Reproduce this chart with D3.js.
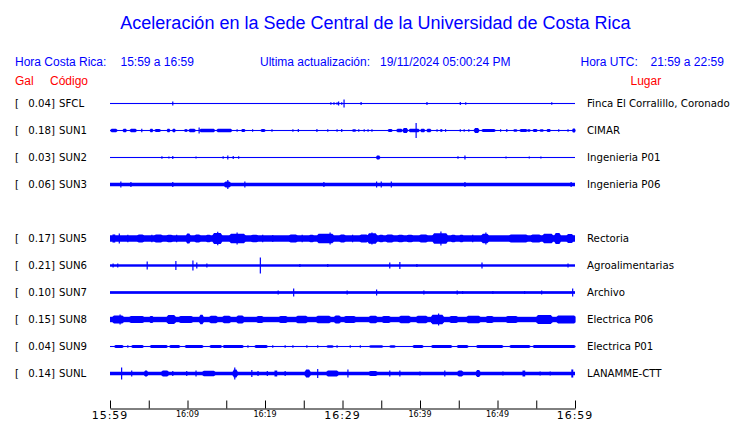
<!DOCTYPE html>
<html lang="es">
<head>
<meta charset="utf-8">
<script src="https://d3js.org/d3.v7.min.js"></script>
<style>
  body { margin: 0; background: #fff; }
  .title { font-family: "Liberation Sans", Arial, sans-serif; font-size: 18px; fill: #0000ff; }
  .head { font-family: "Liberation Sans", Arial, sans-serif; font-size: 12px; fill: #0000ff; }
  .red { font-family: "Liberation Sans", Arial, sans-serif; font-size: 12px; fill: #ff0000; }
  .lbl { font-family: "DejaVu Sans", sans-serif; font-size: 10.2px; fill: #000; }
  .tmaj { font-family: "DejaVu Sans", sans-serif; font-size: 11px; letter-spacing: 1px; fill: #000; }
  .tmin { font-family: "DejaVu Sans", sans-serif; font-size: 8px; fill: #000; }
</style>
</head>
<body>
<script>
// stations, top to bottom (SUN4 slot is empty)
const rowOrder = ["SFCL", "SUN1", "SUN2", "SUN3", "SUN4", "SUN5", "SUN6", "SUN7", "SUN8", "SUN9", "SUNL"];
const codes = ["SFCL", "SUN1", "SUN2", "SUN3", "SUN5", "SUN6", "SUN7", "SUN8", "SUN9", "SUNL"];
const galValues = [0.04, 0.18, 0.03, 0.06, 0.17, 0.21, 0.10, 0.15, 0.04, 0.14];
const places = ["Finca El Corralillo, Coronado", "CIMAR", "Ingenieria P01", "Ingenieria P06", "Rectoria",
  "Agroalimentarias", "Archivo", "Electrica P06", "Electrica P01", "LANAMME-CTT"];

// background noise level of each trace (relative amplitude)
const baseAmp = [0.04, 0.04, 0.04, 0.13, 0.24, 0.09, 0.1, 0.2, 0.04, 0.13];

// bursts: [start minute, end minute, amplitude], minutes after 15:59
const sfcl = [[8.1,8.1,0.15],[28.5,28.5,0.1],[28.9,28.9,0.1],[29.3,29.3,0.1],[29.5,29.5,0.15],[29.9,29.9,0.1],
  [30.2,30.2,0.3],[32.4,32.4,0.12],[40.9,40.9,0.12],[45.2,45.2,0.12],[45.9,45.9,0.1],[57.0,57.0,0.1]];
const sun1 = [[0.1,0.9,0.13],[1.7,2.1,0.13],[2.6,3.4,0.13],[4.1,4.1,0.13],[5.2,5.5,0.13],[5.8,6.5,0.11],
  [7.4,7.7,0.13],[8.1,8.4,0.13],[9.7,9.9,0.1],[10.2,11.0,0.13],[11.5,11.5,0.22],[11.6,13.5,0.13],
  [13.8,15.7,0.13],[16.4,16.4,0.1],[17.0,17.4,0.12],[18.4,18.4,0.1],[19.5,20.0,0.12],[20.9,20.9,0.1],
  [23.6,23.6,0.1],[24.3,24.3,0.12],[26.7,26.7,0.12],[28.1,28.1,0.1],[29.3,29.3,0.1],[29.9,29.9,0.12],
  [31.3,31.7,0.1],[32.1,32.1,0.1],[32.8,32.8,0.1],[33.3,33.3,0.1],[33.8,33.8,0.1],[35.9,36.4,0.12],
  [37.0,37.7,0.13],[37.8,38.4,0.19],[38.6,39.9,0.13],[39.5,39.5,0.56],[40.1,40.6,0.13],[40.9,41.4,0.13],
  [42.2,42.2,0.1],[42.7,42.8,0.1],[43.3,43.3,0.1],[45.2,45.2,0.1],[45.7,45.7,0.1],[46.3,46.3,0.1],
  [47.0,47.6,0.19],[48.0,49.7,0.12],[50.4,50.4,0.1],[51.2,51.2,0.12],[52.1,52.5,0.1],[52.9,53.8,0.12],
  [53.9,54.2,0.1],[54.6,55.1,0.12],[55.5,55.9,0.1],[56.4,56.8,0.12],[57.9,57.9,0.1],[59.1,59.1,0.1],[59.7,60,0.15]];
const sun2 = [[6.7,6.7,0.1],[7.6,7.6,0.08],[8.1,8.1,0.12],[11.1,11.1,0.08],[14.6,14.6,0.1],[15.2,15.2,0.15],
  [15.9,15.9,0.12],[16.6,16.6,0.1],[34.4,34.8,0.15],[44.9,44.9,0.1],[45.8,45.8,0.15],[51.1,51.1,0.08],
  [54.1,54.1,0.08],[55.6,55.6,0.08]];
const sun3 = [[1.4,1.4,0.22],[2.7,2.7,0.18],[8.1,8.1,0.18],[14.8,15.5,0.22],[15.2,15.2,0.33],[17.4,17.4,0.22],
  [27.6,27.6,0.18],[34.4,34.4,0.22],[35.0,35.0,0.22],[36.3,36.3,0.22],[45.8,45.8,0.18],[59.5,59.5,0.18]];
const sun5 = [[0.4,0.6,0.3],[1.2,1.2,0.37],[2.3,2.3,0.28],[3.6,4.3,0.3],[5.4,5.4,0.28],[5.8,6.7,0.3],
  [7.4,8.0,0.28],[8.6,8.6,0.28],[9.9,10.3,0.37],[11.0,11.6,0.3],[12.5,12.9,0.28],[13.3,14.4,0.4],
  [13.9,13.9,0.5],[15.5,17.4,0.35],[16.4,16.4,0.45],[18.3,19.0,0.28],[19.7,19.7,0.28],[21.0,21.0,0.26],
  [23.2,24.1,0.3],[24.8,24.8,0.28],[25.8,26.2,0.28],[26.8,28.8,0.35],[28.4,28.4,0.45],[29.7,30.3,0.3],
  [31.3,31.3,0.28],[32.3,33.2,0.3],[33.3,34.4,0.38],[33.8,33.8,0.45],[34.8,35.2,0.28],[35.7,36.5,0.3],
  [37.2,37.8,0.28],[38.4,39.0,0.28],[40.0,40.9,0.3],[41.7,43.5,0.38],[42.7,42.7,0.52],[44.1,44.5,0.28],
  [45.2,45.5,0.28],[46.8,46.8,0.28],[48.0,48.8,0.35],[48.5,48.5,0.45],[51.6,53.8,0.3],[54.4,55.5,0.3],
  [55.9,57.1,0.35],[57.4,58.1,0.4],[59.0,59.7,0.33]];
const sun6 = [[0.4,0.4,0.15],[1.0,1.0,0.15],[4.8,4.8,0.3],[8.5,8.5,0.33],[10.7,10.7,0.37],[11.2,11.2,0.22],
  [12.5,12.5,0.15],[19.4,19.4,0.6],[24.5,24.5,0.12],[28.1,28.1,0.12],[36.1,36.1,0.22],[37.4,37.4,0.26],
  [39.6,39.6,0.12],[48.0,48.0,0.22],[59.1,59.1,0.15]];
const sun7 = [[21.7,21.7,0.15],[23.7,23.7,0.3],[30.6,30.6,0.15],[34.4,34.4,0.22],[40.5,40.5,0.15],
  [44.8,44.8,0.15],[45.5,45.5,0.12],[49.4,49.4,0.12],[53.5,53.5,0.12],[55.7,55.7,0.15],[59.7,59.7,0.3]];
const sun8 = [[0.4,1.7,0.3],[1.3,1.3,0.37],[2.6,4.3,0.26],[5.2,5.5,0.26],[7.4,8.4,0.33],[9.0,10.6,0.26],
  [11.6,12.0,0.35],[12.9,13.8,0.28],[14.6,15.5,0.28],[16.4,17.2,0.3],[19.0,19.7,0.26],[21.9,22.8,0.26],
  [24.1,25.4,0.28],[26.7,28.4,0.28],[29.0,29.7,0.3],[30.3,31.6,0.26],[33.5,34.4,0.28],[35.2,36.1,0.26],
  [37.4,38.7,0.28],[39.6,40.9,0.28],[41.5,43.0,0.35],[42.4,42.4,0.45],[43.9,44.8,0.26],[46.1,47.7,0.28],
  [48.6,49.4,0.26],[51.2,52.5,0.26],[55.1,57.0,0.33],[57.7,60,0.3]];
const sun9 = [[0.6,1.7,0.12],[2.3,2.3,0.1],[2.8,4.3,0.11],[5.2,7.4,0.11],[7.7,9.0,0.11],[9.7,12.0,0.12],
  [12.9,14.4,0.11],[14.6,17.2,0.12],[17.8,17.8,0.1],[18.7,20.3,0.11],[21.0,21.0,0.1],[22.6,22.6,0.1],
  [23.6,23.6,0.1],[25.4,25.4,0.1],[26.8,26.8,0.1],[28.0,28.8,0.1],[29.3,29.3,0.1],[31.0,31.0,0.1],
  [32.3,32.3,0.1],[33.5,35.2,0.1],[36.1,36.8,0.1],[39.1,40.4,0.11],[41.5,44.1,0.11],[44.8,46.2,0.11],
  [47.3,50.7,0.11],[51.6,54.2,0.11],[54.6,60,0.11]];
const sunl = [[1.5,1.5,0.45],[2.8,2.8,0.22],[4.5,4.8,0.22],[6.7,7.5,0.22],[8.1,8.1,0.18],[9.9,9.9,0.18],
  [11.1,11.1,0.22],[12.0,13.5,0.2],[15.9,16.4,0.3],[16.1,16.1,0.45],[18.3,18.3,0.26],[19.1,19.1,0.18],
  [20.3,20.3,0.18],[21.3,21.5,0.22],[22.6,22.6,0.18],[25.2,25.8,0.3],[26.8,26.8,0.33],[28.0,29.4,0.22],
  [30.7,30.7,0.3],[33.5,34.4,0.18],[36.1,36.1,0.22],[37.4,37.4,0.22],[40.0,40.0,0.15],[43.2,43.2,0.22],
  [44.9,45.5,0.22],[47.3,47.7,0.26],[50.7,50.7,0.15],[53.3,53.5,0.22],[55.5,55.5,0.15],[56.8,56.8,0.15],
  [59.6,59.7,0.3]];
const bursts = [sfcl, sun1, sun2, sun3, sun5, sun6, sun7, sun8, sun9, sunl];

// time axis
const tickMinutes = d3.range(0, 61, 5);
const labelMinutes = [0, 10, 20, 30, 40, 50, 60];
const tickLabels = ["15:59", "16:09", "16:19", "16:29", "16:39", "16:49", "16:59"];
const majorLabels = ["15:59", "16:29", "16:59"];

const W = 740, H = 423;
const svg = d3.select("body").append("svg").attr("width", W).attr("height", H);

const x = d3.scaleLinear().domain([0, 60]).range([110, 575]);
const y = d3.scalePoint().domain(rowOrder).range([103.5, 373.5]);
const amp = d3.scaleLinear().domain([0, 1]).range([0, 13.5]);

// title and header
svg.append("text").attr("class", "title").attr("x", 375.5).attr("y", 29)
  .attr("text-anchor", "middle")
  .text("Aceleración en la Sede Central de la Universidad de Costa Rica");

const head = [
  ["Hora Costa Rica:", 15], ["15:59 a 16:59", 120.5],
  ["Ultima actualización:", 260], ["19/11/2024 05:00:24 PM", 380],
  ["Hora UTC:", 580.5], ["21:59 a 22:59", 650.5]
];
svg.selectAll("text.head").data(head).enter().append("text")
  .attr("class", "head").attr("x", d => d[1]).attr("y", 65.5).text(d => d[0]);

svg.append("text").attr("class", "red").attr("x", 15).attr("y", 85).text("Gal");
svg.append("text").attr("class", "red").attr("x", 50).attr("y", 85).text("Código");
svg.append("text").attr("class", "red").attr("x", 630.5).attr("y", 85).text("Lugar");

// rows
const rows = svg.selectAll("g.row").data(codes).enter().append("g")
  .attr("class", "row")
  .attr("transform", d => "translate(0," + y(d) + ")");

rows.append("text").attr("class", "lbl").attr("x", 15).attr("y", 3.7).text("[");
rows.append("text").attr("class", "lbl").attr("x", 55).attr("y", 3.7)
  .attr("text-anchor", "end").text((d, i) => galValues[i].toFixed(2) + "]");
rows.append("text").attr("class", "lbl").attr("x", 59).attr("y", 3.7).text(d => d);
rows.append("text").attr("class", "lbl").attr("x", 587).attr("y", 3.7).text((d, i) => places[i]);

// background band of each trace
rows.append("rect")
  .attr("x", x(0)).attr("width", x(60) - x(0))
  .attr("y", (d, i) => -Math.max(amp(baseAmp[i]), 0.5))
  .attr("height", (d, i) => 2 * Math.max(amp(baseAmp[i]), 0.5))
  .attr("fill", "#0000ff");

// bursts drawn as small wave packets (tapered ends)
const packet = d3.area().x(p => p[0]).y0(p => -p[1]).y1(p => p[1]);
function packetPoints(b, base) {
  const x0 = x(b[0]) - 0.6, x1 = Math.max(x(b[1]) + 0.6, x0 + 1.2);
  const a = amp(b[2]), r = Math.min(1.5, (x1 - x0) / 4);
  if (x1 - x0 < 3) return [[x0, a], [x1, a]];
  return [[x0, base], [x0 + r, a], [x1 - r, a], [x1, base]];
}
rows.each(function (d, i) {
  const base = Math.max(amp(baseAmp[i]), 0.5);
  d3.select(this).selectAll("path.burst").data(bursts[i]).enter().append("path")
    .attr("class", "burst")
    .attr("d", b => packet(packetPoints(b, base)))
    .attr("fill", "#0000ff");
});

// axis: ticks pointing up, labels below
const axisY = 408.5;
svg.append("g").attr("transform", "translate(0," + axisY + ")")
  .call(d3.axisTop(x).tickValues(tickMinutes).tickSize(8).tickSizeOuter(0).tickFormat(""))
  .call(g => g.selectAll("path, line").attr("stroke", "#000"));

svg.selectAll("text.tick").data(labelMinutes).enter().append("text")
  .attr("class", (d, i) => majorLabels.includes(tickLabels[i]) ? "tmaj" : "tmin")
  .attr("x", d => x(d))
  .attr("y", (d, i) => majorLabels.includes(tickLabels[i]) ? 419 : 416.5)
  .attr("text-anchor", "middle")
  .text((d, i) => tickLabels[i]);
</script>
</body>
</html>
